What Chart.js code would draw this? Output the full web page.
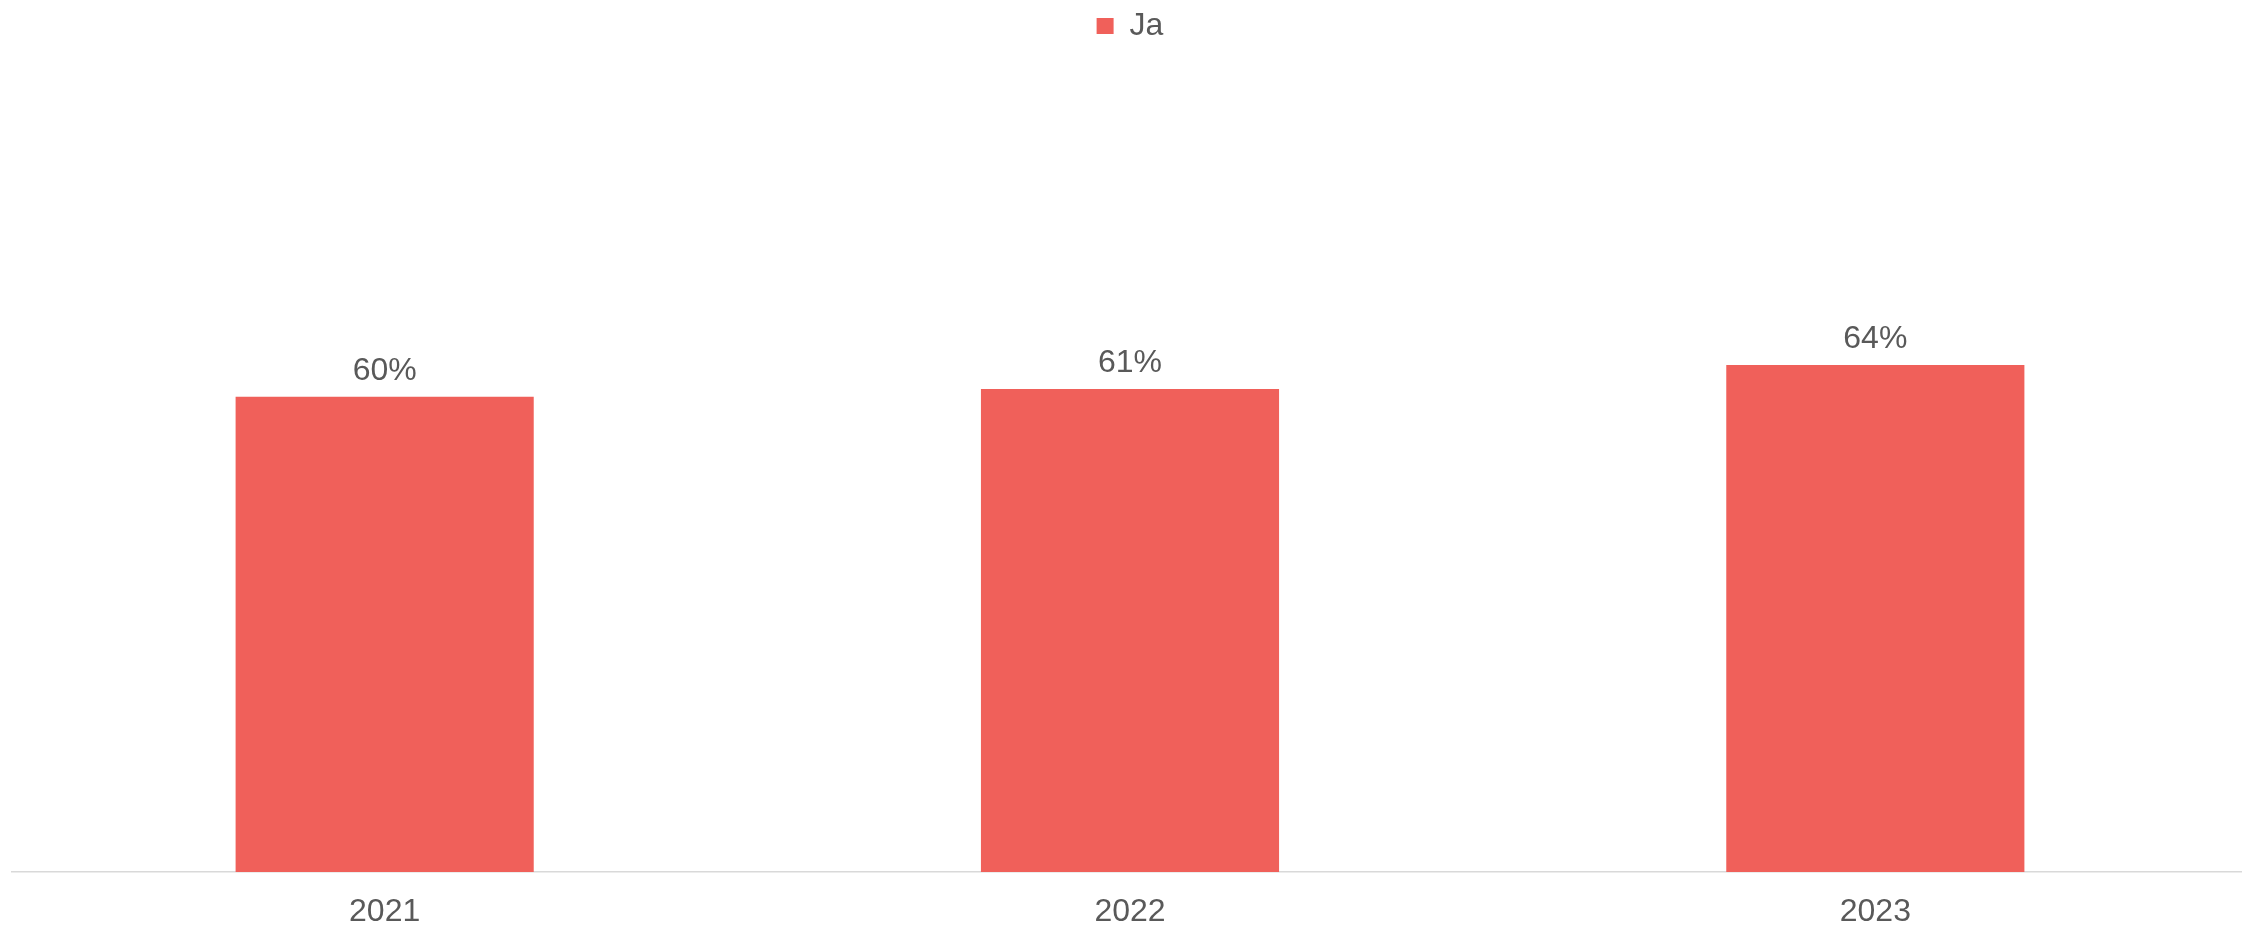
<!DOCTYPE html>
<html lang="de">

<head>
    <meta charset="UTF-8">
    <script src="https://cdn.jsdelivr.net/npm/chart.js"></script>
    <title>Ja</title>
    <style>
        html, body { margin: 0; padding: 0; background: #fff; overflow: hidden; }
        /* plot runs a few px past the right edge, like the original */
        #grafico { width: 2248px; height: 928px; }
    </style>
</head>

<body>
    <div id="grafico">
        <canvas id="grafico-1"></canvas>
    </div>
</body>

</html>

<script>
    var anos = ['2021', '2022', '2023'];
    var valoresJa = [60, 61, 64];
    var serieNome = 'Ja';

    var fonte = 'Liberation Sans, Arial, sans-serif';
    var corTexto = '#595959';

    // bar value labels (no datalabels plugin available offline)
    var rotulos = {
        id: 'rotulos',
        afterDatasetsDraw: function (chart) {
            var ctx = chart.ctx;
            var meta = chart.getDatasetMeta(0);
            ctx.save();
            ctx.font = '32px ' + fonte;
            ctx.fillStyle = corTexto;
            ctx.textAlign = 'center';
            ctx.textBaseline = 'alphabetic';
            meta.data.forEach(function (bar, i) {
                ctx.fillText(valoresJa[i] + '%', bar.x, bar.y - 17);
            });
            ctx.restore();
        }
    };

    // extra room under the legend
    var espacoLegenda = {
        id: 'espacoLegenda',
        beforeInit: function (chart) {
            var fitOriginal = chart.legend.fit;
            chart.legend.fit = function () {
                fitOriginal.bind(chart.legend)();
                this.height += 28;
            };
        }
    };

    var ctx = document.getElementById('grafico-1').getContext('2d');
    var grafico = new Chart(ctx, {
        type: 'bar',
        data: {
            labels: anos,
            datasets: [{
                label: serieNome,
                data: valoresJa,
                backgroundColor: '#F0605A',
                categoryPercentage: 1,
                barPercentage: 0.4
            }]
        },
        options: {
            responsive: true,
            maintainAspectRatio: false,
            animation: false,
            layout: {
                padding: { left: 12, right: 0, top: 0, bottom: 0 }
            },
            plugins: {
                legend: {
                    position: 'top',
                    labels: {
                        boxWidth: 17,
                        boxHeight: 16,
                        padding: 10,
                        color: corTexto,
                        font: { family: fonte, size: 32 }
                    }
                },
                tooltip: { enabled: false }
            },
            scales: {
                x: {
                    grid: { display: false, drawTicks: false },
                    border: { display: true, color: '#D9D9D9', width: 1.5 },
                    ticks: {
                        padding: 21,
                        color: corTexto,
                        font: { family: fonte, size: 32 }
                    },
                    afterFit: function (escala) {
                        escala.height = 56;
                    }
                },
                y: {
                    display: false,
                    min: 0,
                    max: 100
                }
            }
        },
        plugins: [rotulos, espacoLegenda]
    });
</script>
